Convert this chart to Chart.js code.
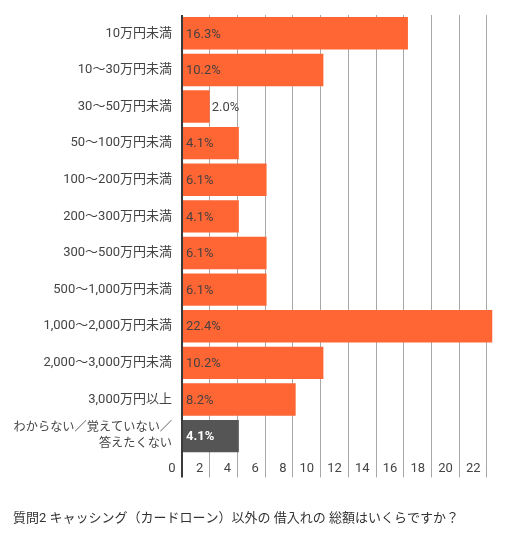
<!DOCTYPE html>
<html><head><meta charset="utf-8">
<script src="https://cdn.jsdelivr.net/npm/chart.js@4/dist/chart.umd.min.js"></script>
<style>html,body{margin:0;padding:0;background:#fff}#wrap{width:510px;height:540px;position:relative}</style>
</head><body><div id="wrap"><canvas id="c"></canvas></div>
<script>
const categories = ['10万円未満','10〜30万円未満','30〜50万円未満','50〜100万円未満','100〜200万円未満','200〜300万円未満','300〜500万円未満','500〜1,000万円未満','1,000〜2,000万円未満','2,000〜3,000万円未満','3,000万円以上',['わからない／覚えていない／','答えたくない']];
const values = [16.3,10.2,2.0,4.1,6.1,4.1,6.1,6.1,22.4,10.2,8.2,4.1];
const valueLabels = ['16.3%','10.2%','2.0%','4.1%','6.1%','4.1%','6.1%','6.1%','22.4%','10.2%','8.2%','4.1%'];
const xTicks = [0,2,4,6,8,10,12,14,16,18,20,22];
const titleText = '質問2 キャッシング（カードローン）以外の 借入れの 総額はいくらですか？';

const FONT = 'Roboto, "Noto Sans CJK JP", sans-serif';
Chart.defaults.font.family = FONT;
const barColors = values.map((v,i)=> i===values.length-1 ? '#555555' : '#ff6633');

const valueLabelPlugin = {
  id:'valueLabels',
  afterDatasetsDraw(chart){
    const ctx = chart.ctx; const meta = chart.getDatasetMeta(0);
    ctx.save();
    ctx.textBaseline='middle'; ctx.textAlign='left';
    meta.data.forEach((bar,i)=>{
      const last = i===values.length-1;
      ctx.font = (last?'bold ':'') + '13px ' + FONT;
      const txt = valueLabels[i];
      const w = ctx.measureText(txt).width;
      const barW = bar.x - bar.base;
      let x;
      if (w + 6 > barW) { x = bar.x + 2; ctx.fillStyle = '#444'; }
      else { x = bar.base + 3; ctx.fillStyle = last ? '#ffffff' : '#4a4040'; }
      ctx.fillText(txt, x, bar.y + 1);
    });
    ctx.restore();
  }
};

new Chart(document.getElementById('c'), {
  type:'bar',
  data:{ labels: categories, datasets:[{ data: values, backgroundColor: barColors, borderWidth:0, categoryPercentage:1, barPercentage:0.885 }]},
  options:{
    indexAxis:'y', responsive:true, maintainAspectRatio:false, animation:false,
    layout:{ padding:{ left:13, right:17.5, top:15, bottom:0 } },
    plugins:{
      legend:{display:false}, tooltip:{enabled:false},
      title:{ display:true, text:titleText, position:'bottom', align:'start', color:'#333', font:{size:13, weight:'normal', family:FONT, lineHeight:1.2}, padding:{top:0,bottom:13} }
    },
    scales:{
      x:{ min:0, max:22.4,
        afterBuildTicks(s){ s.ticks = xTicks.map(v=>({value:v})); },
        afterFit(s){ s.height = 57; s.paddingLeft = 0; s.paddingRight = 0; },
        border:{display:false},
        grid:{ color:(c)=> (c.tick && c.tick.value===0) ? '#3a3a3a' : '#a8a8a8', lineWidth:(c)=> (c.tick && c.tick.value===0) ? 2 : 1, tickLength:23, drawTicks:true },
        ticks:{ align:'end', padding:-16, color:'#444', font:{size:13}, callback:(v)=> String(v) + '  ', maxRotation:0, autoSkip:false }
      },
      y:{
        afterFit(s){ s.width = 169; s.paddingTop = 0; s.paddingBottom = 0; },
        border:{display:false},
        grid:{display:false, drawTicks:false},
        ticks:{ padding:10, color:'#444', autoSkip:false,
          font:(c)=> c.index===categories.length-1 ? {size:12.2, lineHeight:1.3} : {size:13, lineHeight:1.2} }
      }
    }
  },
  plugins:[valueLabelPlugin]
});
</script></body></html>
